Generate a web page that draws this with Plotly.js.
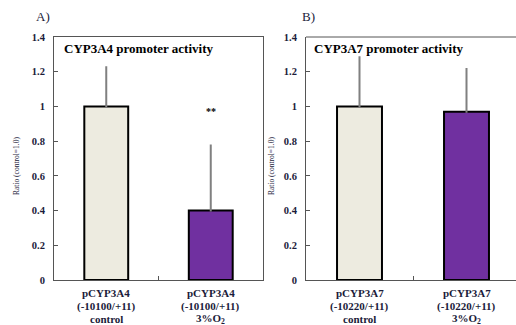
<!DOCTYPE html>
<html>
<head>
<meta charset="utf-8">
<script src="https://cdn.plot.ly/plotly-3.0.1.min.js"></script>
<style>html,body{margin:0;padding:0;background:#fff;}#chart{width:516px;height:325px;}</style>
</head>
<body>
<div id="chart"></div>
<script>
// ---- data ----
const conditions = ["control", "3%O<sub>2</sub>"];
const constructA = ["pCYP3A4", "(-10100/+11)"];
const constructB = ["pCYP3A7", "(-10220/+11)"];
const ratioA = [1.0, 0.40];
const errA = [0.225, 0.375];
const ratioB = [1.0, 0.97];
const errB = [0.283, 0.245];
const barColors = ["#EDEBE0", "#7030A0"];
const yTicks = [0, 0.2, 0.4, 0.6, 0.8, 1, 1.2, 1.4];
const yTickText = ["0", "0.2", "0.4", "0.6", "0.8", "1", "1.2", "1.4"];
const titleA = "CYP3A4 promoter activity";
const titleB = "CYP3A7 promoter activity";
const panelA = "A)";
const panelB = "B)";
const yTitle = "Ratio (control=1.0)";
const sigMark = "**";
const sigIndex = 1;
const sigLevel = 0.97;

const W = 516, H = 325, mt = 37, mb = 45;
const ph = H - mt - mb;
const px = v => v / W;
const py = v => (H - mb - v) / ph;
const font = "Times New Roman, Liberation Serif, serif";
const ink = "#1b1b3a";
const xs = [0, 1];

function barTrace(vals, errs, xa, ya) {
  return {
    type: "bar", x: xs, y: vals, xaxis: xa, yaxis: ya, width: 0.42,
    marker: {color: barColors, line: {color: "#000", width: 2}},
    error_y: {type: "data", array: errs, arrayminus: [0, 0], symmetric: false,
              color: "#808080", thickness: 2, width: 1},
    hoverinfo: "skip", showlegend: false
  };
}

const data = [barTrace(ratioA, errA, "x", "y"), barTrace(ratioB, errB, "x2", "y2")];

function yAx(anchor) {
  return {
    anchor: anchor, domain: [0, 1], range: [0, 1.4], tickvals: yTicks, ticktext: yTickText,
    ticks: "inside", ticklen: 4, tickcolor: "#555", showline: true, linecolor: "#555", linewidth: 1,
    showgrid: false, zeroline: false, fixedrange: true,
    tickfont: {family: font, size: 10.5, color: ink, weight: "bold"}, ticklabelstandoff: 6
  };
}
function xAx(domain, range, anchor, mirror) {
  return {
    anchor: anchor, domain: domain, range: range, tickvals: [-0.5, 0.5, 1.5], showticklabels: false,
    ticks: "inside", ticklen: 4, tickcolor: "#555", showline: true, linecolor: "#555", linewidth: 1,
    mirror: mirror, showgrid: false, zeroline: false, fixedrange: true
  };
}

const annotations = [];
function catLabels(construct, xref) {
  for (let i = 0; i < conditions.length; i++) {
    const lines = construct.concat([conditions[i]]);
    lines.forEach((t, k) => {
      annotations.push({xref: xref, yref: "paper", x: xs[i], y: py(293 + k * 13),
        text: "<b>" + t + "</b>", showarrow: false, xanchor: "center", yanchor: "middle",
        font: {family: font, size: 11, color: ink}});
    });
  }
}
catLabels(constructA, "x");
catLabels(constructB, "x2");

annotations.push({xref: "paper", yref: "paper", x: px(62), y: py(48), text: "<b>" + titleA + "</b>",
  showarrow: false, xanchor: "left", yanchor: "middle", font: {family: font, size: 13, color: "#000"}});
annotations.push({xref: "paper", yref: "paper", x: px(312), y: py(48), text: "<b>" + titleB + "</b>",
  showarrow: false, xanchor: "left", yanchor: "middle", font: {family: font, size: 13, color: "#000"}});
annotations.push({xref: "paper", yref: "paper", x: px(34), y: py(17), text: panelA,
  showarrow: false, xanchor: "left", yanchor: "middle", font: {family: font, size: 13, color: ink}});
annotations.push({xref: "paper", yref: "paper", x: px(300), y: py(17), text: panelB,
  showarrow: false, xanchor: "left", yanchor: "middle", font: {family: font, size: 13, color: ink}});
annotations.push({xref: "paper", yref: "paper", x: px(16), y: py(166), text: yTitle, textangle: -90,
  showarrow: false, xanchor: "center", yanchor: "middle", font: {family: font, size: 7.5, color: ink}});
annotations.push({xref: "paper", yref: "paper", x: px(271), y: py(166), text: yTitle, textangle: -90,
  showarrow: false, xanchor: "center", yanchor: "middle", font: {family: font, size: 7.5, color: ink}});
annotations.push({xref: "x", yref: "y", x: xs[sigIndex], y: sigLevel, text: "<b>" + sigMark + "</b>",
  showarrow: false, xanchor: "center", yanchor: "middle", font: {family: font, size: 10, color: "#000"}});

const layout = {
  width: W, height: H, margin: {l: 0, r: 0, t: mt, b: mb},
  paper_bgcolor: "#fff", plot_bgcolor: "#fff",
  xaxis: xAx([px(54), px(263)], [-0.5, 1.5], "y", true),
  yaxis: yAx("x"),
  xaxis2: xAx([px(306), 1], [-0.5, -0.5 + 210 / 107], "y2", false),
  yaxis2: yAx("x2"),
  shapes: [{type: "line", xref: "paper", yref: "paper", x0: px(306), x1: 1, y0: 1, y1: 1,
            line: {color: "#555", width: 1}}],
  annotations: annotations
};
layout.yaxis.mirror = true;

Plotly.newPlot("chart", data, layout, {staticPlot: true, displayModeBar: false});
</script>
</body>
</html>
